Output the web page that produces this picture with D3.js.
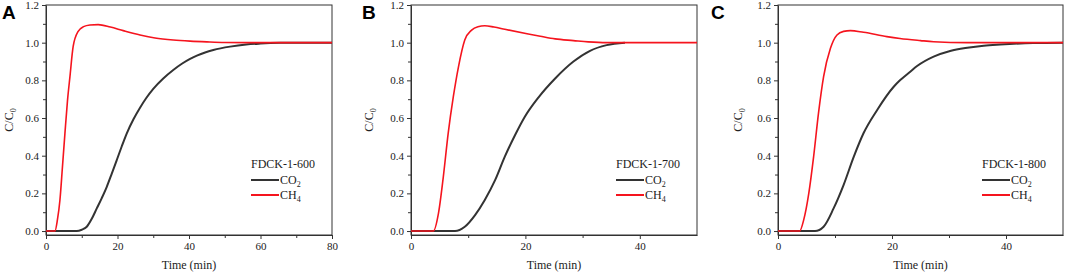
<!DOCTYPE html>
<html>
<head>
<meta charset="utf-8">
<script src="https://cdn.jsdelivr.net/npm/d3@7"></script>
<style>
  body { margin: 0; background: #fff; }
  svg { display: block; }
  .axis text { font-family: "Liberation Serif", "Times New Roman", serif; font-size: 11px; fill: #222; }
  .axis path, .axis line { stroke: #333; }
</style>
</head>
<body>
<script>
// panel A : FDCK-1-600
var tA_ch4 = [0, 2.5, 3.2, 3.9, 4.6, 5.3, 6.0, 6.7, 7.6, 9.0, 10.5, 12.3, 14.6, 18, 21.6, 26.3, 30.5, 35.6, 40.3, 45, 50, 60, 70, 80];
var vA_ch4 = [0, 0, 0.06, 0.165, 0.34, 0.52, 0.69, 0.82, 0.98, 1.06, 1.085, 1.094, 1.096, 1.083, 1.064, 1.041, 1.025, 1.014, 1.008, 1.004, 1.001, 1.0, 1.0, 1.0];
var tA_co2 = [0, 8.6, 10, 11.4, 12.8, 14.2, 15.6, 17, 18.4, 19.8, 21.2, 22.6, 24.5, 26.3, 28, 30, 32.8, 35.6, 38, 40.3, 42.2, 44.5, 46.8, 51.5, 56, 60, 65.5, 70, 80];
var vA_co2 = [0, 0, 0.007, 0.023, 0.065, 0.12, 0.175, 0.235, 0.305, 0.377, 0.45, 0.519, 0.595, 0.655, 0.705, 0.755, 0.81, 0.855, 0.888, 0.914, 0.931, 0.948, 0.961, 0.979, 0.99, 0.995, 0.999, 1.0, 1.0];

// panel B : FDCK-1-700
var tB_ch4 = [0, 3.9, 4.8, 5.65, 6.5, 7.4, 8.3, 9.4, 10.6, 11.7, 12.9, 14.5, 16.4, 20.5, 22.6, 25.2, 28.4, 31, 34.2, 40, 50];
var vB_ch4 = [0, 0, 0.094, 0.288, 0.519, 0.713, 0.872, 1.014, 1.067, 1.085, 1.09, 1.083, 1.071, 1.046, 1.034, 1.02, 1.011, 1.004, 1.0, 1.0, 1.0];
var tB_co2 = [0, 7.7, 9.4, 11.2, 12.9, 14.7, 16.4, 18.2, 19.9, 22.3, 25.2, 28.4, 31.3, 34.2, 37.4];
var vB_co2 = [0, 0, 0.023, 0.085, 0.165, 0.27, 0.395, 0.51, 0.607, 0.71, 0.81, 0.9, 0.957, 0.987, 1.0];

// panel C : FDCK-1-800
var tC_ch4 = [0, 3.8, 4.5, 5.4, 6.25, 7.1, 8.0, 9.2, 10.35, 11.5, 12.7, 15, 19.1, 21.4, 25, 27.3, 33.2, 40, 50];
var vC_ch4 = [0, 0, 0.058, 0.2, 0.395, 0.625, 0.82, 0.97, 1.041, 1.06, 1.064, 1.055, 1.032, 1.022, 1.011, 1.005, 1.0, 1.0, 1.0];
var tC_co2 = [0, 6.5, 8.0, 9.75, 11.5, 13.3, 15.0, 17.4, 20.3, 21.4, 23.2, 24.4, 27.3, 30.2, 33.2, 36.1, 39, 44.8, 50];
var vC_co2 = [0, 0, 0.023, 0.12, 0.244, 0.395, 0.519, 0.643, 0.766, 0.80, 0.846, 0.876, 0.926, 0.956, 0.973, 0.984, 0.99, 0.998, 1.0];

var panelLetters = ["A", "B", "C"];
var sampleNames = ["FDCK-1-600", "FDCK-1-700", "FDCK-1-800"];
var xMax = [80, 50, 50];
var xMajorTicks = [[0, 20, 40, 60, 80], [0, 20, 40], [0, 20, 40]];
var yMajorTicks = [0, 0.2, 0.4, 0.6, 0.8, 1.0, 1.2];

var width = 1065, height = 273;
var top_ = 5, bottom = 235;
var plotLeft = [46, 411, 778];
var plotRight = [332, 697, 1063];
var letterX = [2, 362, 711];
var ylabX = [13, 373, 742];

var red = "#f5141e", dark = "#333333";

var svg = d3.select("body").append("svg")
    .attr("width", width)
    .attr("height", height);

var series = [
    {co2: [tA_co2, vA_co2], ch4: [tA_ch4, vA_ch4]},
    {co2: [tB_co2, vB_co2], ch4: [tB_ch4, vB_ch4]},
    {co2: [tC_co2, vC_co2], ch4: [tC_ch4, vC_ch4]}
];

for (var p = 0; p < 3; p++) {
    var x = d3.scaleLinear().domain([0, xMax[p]]).range([plotLeft[p], plotRight[p]]);
    var y = d3.scaleLinear().domain([-0.021, 1.2]).range([bottom, top_]);
    var g = svg.append("g");

    // minor ticks
    var xMinor = d3.range(10, xMax[p], 20);
    g.append("g").attr("class", "axis")
        .attr("transform", "translate(0," + bottom + ")")
        .call(d3.axisBottom(x).tickValues(xMinor).tickSize(3).tickFormat(""))
        .select(".domain").remove();
    g.append("g").attr("class", "axis")
        .attr("transform", "translate(" + plotLeft[p] + ",0)")
        .call(d3.axisLeft(y).tickValues(d3.range(0.1, 1.2, 0.2)).tickSize(3).tickFormat(""))
        .select(".domain").remove();

    // major axes
    g.append("g").attr("class", "axis")
        .attr("transform", "translate(0," + bottom + ")")
        .call(d3.axisBottom(x).tickValues(xMajorTicks[p]).tickSize(4).tickSizeOuter(0).tickPadding(3).tickFormat(d3.format("d")));
    g.append("g").attr("class", "axis")
        .attr("transform", "translate(" + plotLeft[p] + ",0)")
        .call(d3.axisLeft(y).tickValues(yMajorTicks).tickSize(4).tickSizeOuter(0).tickPadding(3).tickFormat(d3.format(".1f")));

    // frame
    g.append("rect")
        .attr("x", plotLeft[p]).attr("y", top_)
        .attr("width", plotRight[p] - plotLeft[p]).attr("height", bottom - top_)
        .attr("fill", "none").attr("stroke", "#333").attr("stroke-width", 1);

    var line = d3.line()
        .x(function (d) { return x(d[0]); })
        .y(function (d) { return y(d[1]); })
        .curve(d3.curveMonotoneX);

    var co2 = d3.zip(series[p].co2[0], series[p].co2[1]);
    var ch4 = d3.zip(series[p].ch4[0], series[p].ch4[1]);

    g.append("path").datum(co2)
        .attr("fill", "none").attr("stroke", dark).attr("stroke-width", 2)
        .attr("d", line);
    g.append("path").datum(ch4)
        .attr("fill", "none").attr("stroke", red).attr("stroke-width", 1.6)
        .attr("d", line);

    // legend
    var lx = plotRight[p] - 81;
    g.append("text")
        .attr("x", lx).attr("y", 168)
        .style("font-family", "Liberation Serif").style("font-size", "12px").attr("fill", "#222")
        .text(sampleNames[p]);
    var items = [["CO", "2", dark, 180], ["CH", "4", red, 195]];
    items.forEach(function (it) {
        g.append("line")
            .attr("x1", lx).attr("x2", lx + 28)
            .attr("y1", it[3]).attr("y2", it[3])
            .attr("stroke", it[2]).attr("stroke-width", 2);
        var t = g.append("text")
            .attr("x", lx + 29).attr("y", it[3] + 4)
            .style("font-family", "Liberation Serif").style("font-size", "12px").attr("fill", "#222");
        t.append("tspan").text(it[0]);
        t.append("tspan").attr("dy", 3).style("font-size", "8px").text(it[1]);
    });

    // x label
    g.append("text")
        .attr("x", (plotLeft[p] + plotRight[p]) / 2).attr("y", 269)
        .attr("text-anchor", "middle")
        .style("font-family", "Liberation Serif").style("font-size", "12px").attr("fill", "#222")
        .text("Time (min)");

    // y label
    var yl = g.append("text")
        .attr("transform", "translate(" + ylabX[p] + "," + ((top_ + bottom) / 2) + ") rotate(-90)")
        .attr("text-anchor", "middle")
        .style("font-family", "Liberation Serif").style("font-size", "12px").attr("fill", "#222");
    yl.append("tspan").text("C/C");
    yl.append("tspan").attr("dy", 3).style("font-size", "8px").text("0");

    // panel letter
    g.append("text")
        .attr("x", letterX[p]).attr("y", 19)
        .style("font-family", "Liberation Sans, Arial, sans-serif").style("font-size", "19px")
        .style("font-weight", "bold").attr("fill", "#000")
        .text(panelLetters[p]);
}
</script>
</body>
</html>
